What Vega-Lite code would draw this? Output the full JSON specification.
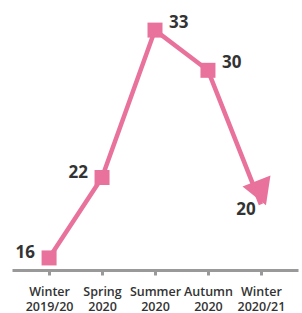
{
  "$schema": "https://vega.github.io/schema/vega-lite/v6.json",
  "width": 286,
  "height": 260,
  "autosize": "none",
  "padding": {"left": 12, "top": 10, "right": 4, "bottom": 43},
  "background": "white",
  "config": {"view": {"stroke": null}},
  "data": {
    "values": [
      {"season": "Winter 2019/20", "value": 16},
      {"season": "Spring 2020", "value": 22},
      {"season": "Summer 2020", "value": 33},
      {"season": "Autumn 2020", "value": 30},
      {"season": "Winter 2020/21", "value": 20}
    ]
  },
  "encoding": {
    "x": {
      "field": "season",
      "type": "ordinal",
      "sort": null,
      "scale": {"type": "point", "padding": 0.7},
      "axis": {
        "title": null,
        "labelAngle": 0,
        "labelExpr": "split(datum.label, ' ')",
        "labelLineHeight": 15,
        "labelFont": "Open Sans",
        "labelFontSize": 12.5,
        "labelFontWeight": 600,
        "labelColor": "#333333",
        "labelPadding": 10,
        "labelOverlap": false,
        "domainColor": "#999999",
        "domainWidth": 3,
        "tickColor": "#999999",
        "tickWidth": 3,
        "tickSize": 5,
        "grid": false
      }
    },
    "y": {
      "field": "value",
      "type": "quantitative",
      "scale": {"domain": [15.1, 34.5], "zero": false},
      "axis": null
    }
  },
  "layer": [
    {"mark": {"type": "line", "color": "#e8729b", "strokeWidth": 4.5}},
    {
      "transform": [{"filter": "datum.season != 'Winter 2020/21'"}],
      "mark": {"type": "point", "shape": "square", "size": 225, "filled": true, "opacity": 1, "color": "#e8729b"}
    },
    {
      "transform": [{"filter": "datum.season == 'Winter 2020/21'"}],
      "mark": {"type": "point", "shape": "M0.29,0.18L-0.71,-1.55L1.29,-1.55Z", "size": 900, "angle": -21.4, "filled": true, "opacity": 1, "color": "#e8729b"}
    },
    {
      "transform": [{"filter": "datum.value < 25 && datum.season != 'Winter 2020/21'"}],
      "mark": {"type": "text", "align": "right", "baseline": "middle", "dx": -14, "dy": -5, "font": "Open Sans", "fontSize": 17, "fontWeight": "bold", "color": "#333333"},
      "encoding": {"text": {"field": "value"}}
    },
    {
      "transform": [{"filter": "datum.value > 25"}],
      "mark": {"type": "text", "align": "left", "baseline": "middle", "dx": 14, "dy": -7, "font": "Open Sans", "fontSize": 17, "fontWeight": "bold", "color": "#333333"},
      "encoding": {"text": {"field": "value"}}
    },
    {
      "transform": [{"filter": "datum.season == 'Winter 2020/21'"}],
      "mark": {"type": "text", "align": "center", "baseline": "middle", "dx": -15, "dy": 6, "font": "Open Sans", "fontSize": 17, "fontWeight": "bold", "color": "#333333"},
      "encoding": {"text": {"field": "value"}}
    }
  ]
}
